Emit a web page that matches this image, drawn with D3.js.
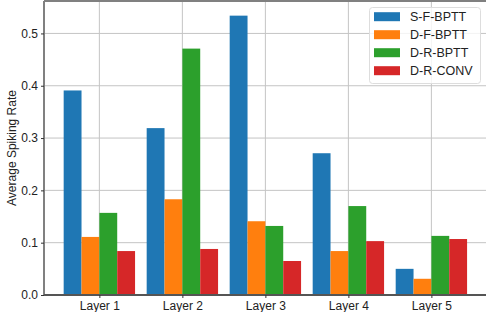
<!DOCTYPE html>
<html><head><meta charset="utf-8">
<script src="https://cdn.jsdelivr.net/npm/d3@7"></script>
<style>body{margin:0;background:#fff}svg{display:block}text{font-family:"Liberation Sans",Arial,sans-serif}</style>
</head><body><svg id="c" width="486" height="312"></svg>
<script>
const categories = ["Layer 1","Layer 2","Layer 3","Layer 4","Layer 5"];
const seriesNames = ["S-F-BPTT","D-F-BPTT","D-R-BPTT","D-R-CONV"];
const sfBptt = [0.391, 0.319, 0.534, 0.271, 0.050];
const dfBptt = [0.111, 0.183, 0.141, 0.084, 0.031];
const drBptt = [0.157, 0.471, 0.132, 0.170, 0.113];
const drConv = [0.084, 0.088, 0.065, 0.103, 0.107];
const yTicks = [0.0, 0.1, 0.2, 0.3, 0.4, 0.5];
const colors = ["#1f77b4","#ff7f0e","#2ca02c","#d62728"];
const series = [sfBptt, dfBptt, drBptt, drConv];

const svg = d3.select("#c");
const L = 44, R = 487, T = 1, B = 295;
const barW = 0.215;
const x = d3.scaleLinear().domain([-0.667, 4.67]).range([L, R]);
const y = d3.scaleLinear().domain([0, 0.562]).range([B, T]);

// grid
svg.append("g").selectAll("line").data(yTicks).join("line")
  .attr("x1", L).attr("x2", R).attr("y1", d=>y(d)).attr("y2", d=>y(d))
  .attr("stroke", "#c4c4c4").attr("stroke-width", 1);
svg.append("g").selectAll("line").data(categories).join("line")
  .attr("x1", (d,i)=>x(i)).attr("x2", (d,i)=>x(i)).attr("y1", T).attr("y2", B)
  .attr("stroke", "#c4c4c4").attr("stroke-width", 1);

// bars
series.forEach((s, si) => {
  svg.append("g").selectAll("rect").data(s).join("rect")
    .attr("x", (d,i)=>x(i + (si - 2) * barW))
    .attr("width", x(barW) - x(0))
    .attr("y", d=>y(d)).attr("height", d=>B - y(d))
    .attr("fill", colors[si]);
});

// spines
svg.append("line").attr("x1", L).attr("x2", R).attr("y1", T).attr("y2", T).attr("stroke", "#808080").attr("stroke-width", 2);
svg.append("line").attr("x1", L).attr("x2", L).attr("y1", T).attr("y2", B).attr("stroke", "#808080").attr("stroke-width", 2);
svg.append("line").attr("x1", L).attr("x2", R).attr("y1", B).attr("y2", B).attr("stroke", "#555").attr("stroke-width", 2);

// axes
const yAxis = svg.append("g").attr("transform", `translate(${L},0)`)
  .call(d3.axisLeft(y).tickValues(yTicks).tickFormat(d3.format(".1f")).tickSize(3).tickPadding(3));
const xAxis = svg.append("g").attr("transform", `translate(0,${B})`)
  .call(d3.axisBottom(x).tickValues(categories.map((d,i)=>i)).tickFormat(i=>categories[i]).tickSize(3).tickPadding(3));
[yAxis, xAxis].forEach(a => {
  a.select(".domain").remove();
  a.selectAll(".tick line").attr("stroke", "#333");
  a.selectAll("text").attr("font-size", 12).attr("fill", "#222").attr("font-family", '"Liberation Sans",Arial,sans-serif');
});

svg.append("text").attr("transform", `translate(16,${(T+B)/2}) rotate(-90)`)
  .attr("text-anchor", "middle").attr("font-size", 12).attr("fill", "#222").text("Average Spiking Rate");

// legend
const lg = svg.append("g");
lg.append("rect").attr("x", 369.5).attr("y", 7.5).attr("width", 111).attr("height", 76).attr("rx", 3)
  .attr("fill", "#fff").attr("fill-opacity", 0.8).attr("stroke", "#ddd");
seriesNames.forEach((n, i) => {
  const cy = 16.7 + i * 18;
  lg.append("rect").attr("x", 374).attr("y", cy - 4.5).attr("width", 26).attr("height", 9).attr("fill", colors[i]);
  lg.append("text").attr("x", 410).attr("y", cy).attr("dy", "0.36em").attr("font-size", 12.5).attr("fill", "#222").text(n);
});
</script></body></html>
